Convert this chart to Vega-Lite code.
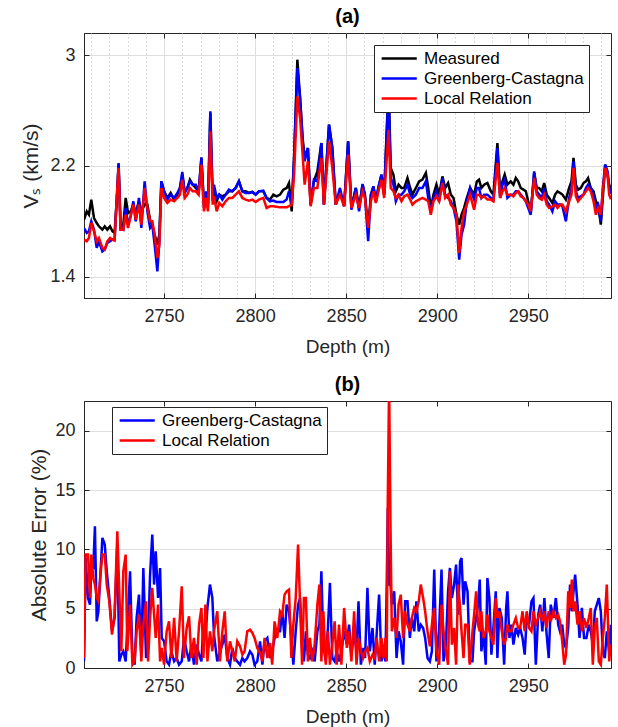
{
"$schema": "https://vega.github.io/schema/vega-lite/v6.json",
"padding": {"left": 20, "top": 6, "right": 6, "bottom": 4},
"background": "white",
"bounds": "flush",
"spacing": 103,
"config": {
  "font": "Liberation Sans",
  "view": {"stroke": "#262626", "strokeWidth": 1},
  "axis": {"labelFont": "Liberation Sans", "titleFont": "Liberation Sans", "labelFontSize": 18, "titleFontSize": 19, "titleFontWeight": "normal", "labelColor": "#262626", "titleColor": "#262626", "domainColor": "#262626", "tickColor": "#262626", "gridColor": "#dedede", "gridWidth": 1, "tickSize": -5, "labelPadding": 14, "domainWidth": 1},
  "axisY": {"titleFontSize": 21},
  "legend": {"orient": "none", "title": null, "symbolType": "M-1,0L5,0", "symbolSize": 137, "symbolStrokeWidth": 2.5, "labelFontSize": 17, "labelFont": "Liberation Sans", "labelColor": "#000000", "padding": 5, "rowPadding": 2, "strokeColor": "#262626", "fillColor": "white", "cornerRadius": 0, "labelOffset": 28},
  "title": {"font": "Liberation Sans", "fontSize": 20, "fontWeight": "bold", "color": "#000000", "offset": 6}
},
"datasets": {
"a": [
{"d":2706.0,"m":1.812,"g":1.752,"l":1.668},
{"d":2707.5,"m":1.872,"g":1.716,"l":1.656},
{"d":2708.7,"m":1.848,"g":1.728,"l":1.680},
{"d":2710.0,"m":1.957,"g":1.800,"l":1.788},
{"d":2711.5,"m":1.824,"g":1.740,"l":1.728},
{"d":2713.0,"m":1.788,"g":1.608,"l":1.656},
{"d":2714.2,"m":1.764,"g":1.656,"l":1.680},
{"d":2716.1,"m":1.740,"g":1.583,"l":1.608},
{"d":2717.4,"m":1.764,"g":1.596,"l":1.596},
{"d":2718.8,"m":1.740,"g":1.644,"l":1.656},
{"d":2720.3,"m":1.764,"g":1.656,"l":1.680},
{"d":2721.6,"m":1.728,"g":1.668,"l":1.668},
{"d":2722.8,"m":1.716,"g":1.668,"l":1.661},
{"d":2724.3,"m":2.017,"g":2.041,"l":2.041},
{"d":2725.0,"m":2.210,"g":2.222,"l":2.186},
{"d":2726.1,"m":1.752,"g":1.752,"l":1.740},
{"d":2727.6,"m":1.776,"g":1.740,"l":1.740},
{"d":2728.9,"m":1.969,"g":1.897,"l":1.848},
{"d":2730.2,"m":1.860,"g":1.776,"l":1.752},
{"d":2731.6,"m":1.872,"g":1.836,"l":1.836},
{"d":2733.1,"m":1.921,"g":1.945,"l":1.921},
{"d":2734.4,"m":1.860,"g":1.800,"l":1.812},
{"d":2736.2,"m":1.945,"g":1.969,"l":1.921},
{"d":2737.5,"m":1.872,"g":1.752,"l":1.776},
{"d":2739.3,"m":1.921,"g":2.089,"l":2.041},
{"d":2740.8,"m":1.921,"g":1.872,"l":1.897},
{"d":2742.3,"m":1.812,"g":1.752,"l":1.800},
{"d":2743.5,"m":1.776,"g":1.776,"l":1.800},
{"d":2744.8,"m":1.704,"g":1.632,"l":1.704},
{"d":2746.3,"m":1.632,"g":1.439,"l":1.535},
{"d":2747.4,"m":1.704,"g":1.656,"l":1.632},
{"d":2748.5,"m":2.089,"g":2.089,"l":2.041},
{"d":2750.0,"m":2.017,"g":2.017,"l":1.969},
{"d":2751.8,"m":1.969,"g":1.957,"l":1.933},
{"d":2753.6,"m":2.005,"g":1.993,"l":1.957},
{"d":2755.5,"m":1.957,"g":1.969,"l":1.945},
{"d":2757.3,"m":1.993,"g":2.005,"l":1.969},
{"d":2758.7,"m":2.041,"g":2.041,"l":1.993},
{"d":2760.0,"m":2.137,"g":2.157,"l":2.101},
{"d":2761.3,"m":2.017,"g":2.005,"l":1.969},
{"d":2762.8,"m":2.041,"g":2.041,"l":1.993},
{"d":2764.2,"m":2.101,"g":2.089,"l":2.041},
{"d":2765.7,"m":2.065,"g":2.065,"l":2.017},
{"d":2767.4,"m":2.041,"g":2.065,"l":2.017},
{"d":2769.0,"m":2.017,"g":2.017,"l":1.993},
{"d":2770.5,"m":2.258,"g":2.263,"l":2.210},
{"d":2771.9,"m":1.921,"g":1.897,"l":1.872},
{"d":2773.0,"m":1.993,"g":2.017,"l":1.969},
{"d":2774.1,"m":1.921,"g":1.897,"l":1.872},
{"d":2775.4,"m":2.585,"g":2.595,"l":2.450},
{"d":2776.7,"m":1.945,"g":1.969,"l":1.921},
{"d":2777.4,"m":2.017,"g":2.065,"l":1.981},
{"d":2778.9,"m":1.945,"g":1.969,"l":1.872},
{"d":2780.3,"m":1.993,"g":1.993,"l":1.933},
{"d":2782.0,"m":1.981,"g":1.957,"l":1.909},
{"d":2783.8,"m":1.993,"g":1.993,"l":1.945},
{"d":2785.6,"m":2.017,"g":2.029,"l":1.969},
{"d":2787.5,"m":2.017,"g":2.017,"l":1.969},
{"d":2789.3,"m":2.041,"g":2.041,"l":1.993},
{"d":2791.1,"m":2.089,"g":2.089,"l":2.017},
{"d":2793.0,"m":2.017,"g":2.017,"l":1.969},
{"d":2794.8,"m":2.017,"g":2.005,"l":1.957},
{"d":2796.6,"m":2.005,"g":2.005,"l":1.950},
{"d":2798.5,"m":2.012,"g":2.012,"l":1.957},
{"d":2800.3,"m":1.993,"g":1.993,"l":1.940},
{"d":2802.1,"m":2.017,"g":2.017,"l":1.957},
{"d":2804.5,"m":2.017,"g":2.022,"l":1.969},
{"d":2806.3,"m":1.969,"g":1.969,"l":1.897},
{"d":2808.2,"m":1.957,"g":1.945,"l":1.909},
{"d":2810.0,"m":1.993,"g":1.950,"l":1.909},
{"d":2811.8,"m":1.981,"g":1.940,"l":1.906},
{"d":2813.7,"m":1.993,"g":1.940,"l":1.901},
{"d":2815.5,"m":2.029,"g":1.940,"l":1.901},
{"d":2817.3,"m":2.041,"g":1.957,"l":1.901},
{"d":2818.6,"m":2.077,"g":2.017,"l":1.909},
{"d":2820.1,"m":1.872,"g":1.921,"l":1.921},
{"d":2821.4,"m":2.258,"g":2.258,"l":2.137},
{"d":2823.2,"m":2.968,"g":2.908,"l":2.703},
{"d":2824.7,"m":2.691,"g":2.691,"l":2.547},
{"d":2826.1,"m":2.402,"g":2.378,"l":2.282},
{"d":2827.2,"m":2.258,"g":2.234,"l":2.065},
{"d":2829.0,"m":2.330,"g":2.330,"l":2.234},
{"d":2830.5,"m":1.921,"g":1.921,"l":1.909},
{"d":2832.3,"m":2.089,"g":2.101,"l":2.041},
{"d":2834.2,"m":2.161,"g":2.089,"l":2.041},
{"d":2836.4,"m":2.366,"g":2.366,"l":2.258},
{"d":2837.8,"m":1.921,"g":1.921,"l":1.921},
{"d":2840.6,"m":2.499,"g":2.499,"l":2.378},
{"d":2842.4,"m":2.330,"g":2.330,"l":2.186},
{"d":2844.3,"m":1.921,"g":1.921,"l":1.921},
{"d":2846.6,"m":2.017,"g":2.041,"l":1.993},
{"d":2848.9,"m":1.909,"g":1.909,"l":1.909},
{"d":2851.1,"m":2.378,"g":2.378,"l":2.282},
{"d":2852.9,"m":1.897,"g":1.884,"l":1.897},
{"d":2855.3,"m":2.041,"g":2.041,"l":1.993},
{"d":2857.1,"m":1.897,"g":1.872,"l":1.897},
{"d":2859.0,"m":2.065,"g":2.070,"l":2.017},
{"d":2860.3,"m":1.993,"g":1.993,"l":1.969},
{"d":2862.1,"m":1.752,"g":1.656,"l":1.752},
{"d":2863.6,"m":1.993,"g":1.993,"l":1.945},
{"d":2865.0,"m":2.053,"g":2.053,"l":2.017},
{"d":2866.3,"m":1.945,"g":1.945,"l":1.933},
{"d":2867.8,"m":2.041,"g":2.053,"l":2.017},
{"d":2869.4,"m":2.137,"g":2.137,"l":2.101},
{"d":2870.9,"m":1.993,"g":1.993,"l":1.969},
{"d":2873.3,"m":2.800,"g":2.750,"l":2.460},
{"d":2874.5,"m":2.186,"g":2.113,"l":2.041},
{"d":2876.0,"m":2.137,"g":2.065,"l":2.017},
{"d":2877.3,"m":2.017,"g":1.945,"l":1.969},
{"d":2878.8,"m":2.065,"g":1.993,"l":1.993},
{"d":2880.4,"m":2.041,"g":1.993,"l":1.945},
{"d":2881.9,"m":2.041,"g":2.017,"l":1.981},
{"d":2883.7,"m":2.113,"g":2.065,"l":1.993},
{"d":2885.2,"m":2.041,"g":1.993,"l":1.957},
{"d":2886.4,"m":1.993,"g":1.969,"l":1.921},
{"d":2888.3,"m":2.041,"g":1.993,"l":1.945},
{"d":2890.1,"m":2.089,"g":2.041,"l":1.957},
{"d":2891.9,"m":2.101,"g":2.041,"l":1.969},
{"d":2893.8,"m":2.149,"g":2.089,"l":1.957},
{"d":2895.1,"m":2.041,"g":1.969,"l":1.945},
{"d":2896.5,"m":1.897,"g":1.872,"l":1.848},
{"d":2898.0,"m":1.993,"g":1.969,"l":1.945},
{"d":2899.6,"m":2.065,"g":2.017,"l":1.981},
{"d":2901.1,"m":1.993,"g":1.945,"l":1.945},
{"d":2902.9,"m":2.125,"g":2.113,"l":2.077},
{"d":2904.4,"m":2.041,"g":1.993,"l":1.969},
{"d":2906.0,"m":2.077,"g":1.969,"l":1.993},
{"d":2907.5,"m":1.993,"g":1.945,"l":1.921},
{"d":2909.0,"m":1.969,"g":1.897,"l":1.897},
{"d":2910.6,"m":1.848,"g":1.800,"l":1.848},
{"d":2912.1,"m":1.776,"g":1.523,"l":1.571},
{"d":2913.4,"m":1.848,"g":1.704,"l":1.752},
{"d":2914.8,"m":1.897,"g":1.776,"l":1.872},
{"d":2916.3,"m":1.969,"g":1.945,"l":1.921},
{"d":2918.1,"m":2.041,"g":2.041,"l":1.993},
{"d":2920.3,"m":1.993,"g":1.957,"l":1.884},
{"d":2921.8,"m":2.089,"g":2.041,"l":1.993},
{"d":2923.0,"m":2.101,"g":2.041,"l":1.993},
{"d":2924.3,"m":2.041,"g":1.969,"l":1.969},
{"d":2925.8,"m":2.065,"g":1.993,"l":1.981},
{"d":2927.6,"m":2.077,"g":1.993,"l":1.957},
{"d":2929.5,"m":2.017,"g":1.969,"l":1.957},
{"d":2930.9,"m":1.993,"g":1.957,"l":1.945},
{"d":2933.1,"m":2.366,"g":2.330,"l":2.222},
{"d":2934.6,"m":1.993,"g":1.969,"l":1.969},
{"d":2935.9,"m":2.089,"g":2.065,"l":2.017},
{"d":2937.1,"m":2.137,"g":2.101,"l":2.041},
{"d":2938.6,"m":2.065,"g":1.969,"l":1.993},
{"d":2940.4,"m":2.089,"g":1.993,"l":1.993},
{"d":2941.9,"m":2.065,"g":1.993,"l":1.981},
{"d":2943.2,"m":2.113,"g":2.017,"l":2.005},
{"d":2944.5,"m":2.089,"g":2.017,"l":2.017},
{"d":2945.9,"m":2.041,"g":1.993,"l":1.981},
{"d":2947.4,"m":2.029,"g":1.969,"l":1.969},
{"d":2948.7,"m":2.017,"g":1.945,"l":1.945},
{"d":2950.0,"m":1.945,"g":1.897,"l":1.921},
{"d":2951.4,"m":1.860,"g":1.848,"l":1.872},
{"d":2953.3,"m":2.149,"g":2.161,"l":2.113},
{"d":2954.7,"m":2.041,"g":2.017,"l":1.993},
{"d":2956.0,"m":2.041,"g":1.993,"l":1.969},
{"d":2957.5,"m":2.017,"g":1.969,"l":1.957},
{"d":2958.8,"m":2.077,"g":2.041,"l":1.993},
{"d":2960.2,"m":1.993,"g":1.945,"l":1.921},
{"d":2961.5,"m":1.969,"g":1.921,"l":1.897},
{"d":2963.3,"m":1.933,"g":1.872,"l":1.909},
{"d":2964.8,"m":1.993,"g":1.945,"l":1.921},
{"d":2966.1,"m":2.017,"g":1.921,"l":1.897},
{"d":2967.6,"m":2.005,"g":1.921,"l":1.921},
{"d":2968.8,"m":1.993,"g":1.909,"l":1.921},
{"d":2970.7,"m":1.957,"g":1.800,"l":1.872},
{"d":2972.5,"m":2.041,"g":1.969,"l":1.945},
{"d":2973.8,"m":2.089,"g":2.041,"l":1.993},
{"d":2974.9,"m":2.258,"g":2.234,"l":2.186},
{"d":2976.2,"m":2.065,"g":2.017,"l":1.981},
{"d":2977.4,"m":2.029,"g":1.969,"l":1.945},
{"d":2978.9,"m":2.041,"g":1.981,"l":1.969},
{"d":2980.4,"m":2.077,"g":1.993,"l":1.993},
{"d":2981.7,"m":2.089,"g":2.041,"l":2.017},
{"d":2982.9,"m":2.113,"g":2.065,"l":2.041},
{"d":2984.4,"m":2.041,"g":2.041,"l":2.017},
{"d":2985.9,"m":2.017,"g":1.993,"l":1.945},
{"d":2987.2,"m":1.945,"g":1.897,"l":1.848},
{"d":2988.4,"m":1.921,"g":1.921,"l":1.897},
{"d":2989.9,"m":1.776,"g":1.800,"l":1.848},
{"d":2991.0,"m":1.969,"g":2.041,"l":2.017},
{"d":2992.3,"m":2.210,"g":2.210,"l":2.186},
{"d":2993.6,"m":2.137,"g":2.161,"l":2.137},
{"d":2994.5,"m":2.065,"g":2.041,"l":1.993},
{"d":2995.5,"m":2.030,"g":2.000,"l":1.960}
],
"b": [
{"d":2706.0,"g":0.56,"l":0.84},
{"d":2706.9,"g":9.27,"l":9.56},
{"d":2708.2,"g":5.90,"l":9.56},
{"d":2709.3,"g":5.34,"l":5.90},
{"d":2710.0,"g":8.43,"l":9.56},
{"d":2711.1,"g":8.43,"l":7.59},
{"d":2712.0,"g":11.94,"l":7.03},
{"d":2713.0,"g":3.93,"l":5.90},
{"d":2713.9,"g":4.78,"l":5.62},
{"d":2715.2,"g":8.43,"l":8.15},
{"d":2716.1,"g":10.96,"l":9.56},
{"d":2717.4,"g":10.40,"l":9.56},
{"d":2718.5,"g":8.15,"l":7.03},
{"d":2719.9,"g":5.90,"l":5.62},
{"d":2721.4,"g":3.09,"l":2.81},
{"d":2722.8,"g":4.22,"l":4.50},
{"d":2724.3,"g":10.40,"l":11.52},
{"d":2725.4,"g":0.56,"l":6.46},
{"d":2726.5,"g":1.12,"l":1.41},
{"d":2727.6,"g":1.41,"l":8.15},
{"d":2728.9,"g":0.56,"l":9.56},
{"d":2729.8,"g":3.37,"l":1.41},
{"d":2731.3,"g":8.15,"l":5.34},
{"d":2732.6,"g":0.84,"l":0.28},
{"d":2733.8,"g":0.28,"l":0.56},
{"d":2734.9,"g":4.22,"l":3.09},
{"d":2736.2,"g":6.18,"l":4.50},
{"d":2737.5,"g":1.12,"l":0.56},
{"d":2738.6,"g":8.43,"l":3.65},
{"d":2740.1,"g":0.84,"l":5.62},
{"d":2741.2,"g":2.53,"l":0.56},
{"d":2742.3,"g":7.87,"l":4.22},
{"d":2743.5,"g":11.24,"l":6.75},
{"d":2744.5,"g":7.03,"l":4.50},
{"d":2745.4,"g":9.84,"l":2.53},
{"d":2746.7,"g":5.90,"l":5.34},
{"d":2747.8,"g":8.43,"l":0.56},
{"d":2748.7,"g":2.53,"l":1.69},
{"d":2750.0,"g":2.25,"l":0.28},
{"d":2751.4,"g":0.56,"l":3.09},
{"d":2752.7,"g":0.28,"l":3.93},
{"d":2754.0,"g":1.41,"l":0.84},
{"d":2755.5,"g":0.56,"l":4.22},
{"d":2756.9,"g":0.84,"l":0.56},
{"d":2758.2,"g":0.28,"l":3.09},
{"d":2759.7,"g":0.56,"l":6.89},
{"d":2760.9,"g":2.53,"l":0.84},
{"d":2762.4,"g":1.41,"l":3.37},
{"d":2763.7,"g":0.56,"l":4.36},
{"d":2765.0,"g":1.97,"l":0.84},
{"d":2766.4,"g":0.28,"l":2.53},
{"d":2767.9,"g":1.97,"l":0.28},
{"d":2769.2,"g":1.12,"l":3.65},
{"d":2770.5,"g":0.56,"l":5.06},
{"d":2771.6,"g":3.65,"l":0.84},
{"d":2772.7,"g":2.53,"l":5.34},
{"d":2773.8,"g":5.06,"l":0.56},
{"d":2775.2,"g":7.03,"l":3.09},
{"d":2776.5,"g":5.90,"l":1.41},
{"d":2777.4,"g":2.81,"l":3.09},
{"d":2779.2,"g":0.56,"l":4.78},
{"d":2780.7,"g":1.41,"l":0.56},
{"d":2782.0,"g":1.97,"l":3.09},
{"d":2783.3,"g":2.81,"l":4.78},
{"d":2784.7,"g":0.84,"l":0.56},
{"d":2786.2,"g":0.28,"l":2.25},
{"d":2787.5,"g":1.69,"l":1.41},
{"d":2788.8,"g":0.84,"l":0.56},
{"d":2790.2,"g":0.56,"l":2.25},
{"d":2791.7,"g":0.28,"l":1.83},
{"d":2793.0,"g":0.84,"l":1.12},
{"d":2794.2,"g":0.56,"l":1.41},
{"d":2795.7,"g":0.84,"l":3.09},
{"d":2797.2,"g":1.41,"l":3.23},
{"d":2798.5,"g":1.12,"l":2.95},
{"d":2799.7,"g":0.28,"l":2.53},
{"d":2801.2,"g":0.56,"l":1.69},
{"d":2802.7,"g":2.25,"l":1.26},
{"d":2804.0,"g":0.28,"l":0.56},
{"d":2805.2,"g":2.25,"l":2.53},
{"d":2806.7,"g":2.53,"l":0.84},
{"d":2808.2,"g":0.84,"l":2.11},
{"d":2809.4,"g":1.41,"l":0.28},
{"d":2810.7,"g":2.53,"l":3.93},
{"d":2812.2,"g":3.09,"l":2.53},
{"d":2813.7,"g":3.09,"l":4.78},
{"d":2814.9,"g":4.78,"l":4.50},
{"d":2816.2,"g":2.53,"l":6.18},
{"d":2817.3,"g":5.34,"l":6.46},
{"d":2818.6,"g":4.78,"l":6.60},
{"d":2819.9,"g":2.53,"l":0.84},
{"d":2821.0,"g":0.28,"l":3.65},
{"d":2822.3,"g":3.09,"l":5.90},
{"d":2823.6,"g":5.34,"l":10.40},
{"d":2824.7,"g":5.90,"l":5.34},
{"d":2825.8,"g":1.69,"l":0.28},
{"d":2826.8,"g":0.56,"l":5.90},
{"d":2827.9,"g":3.09,"l":5.90},
{"d":2829.0,"g":1.12,"l":0.56},
{"d":2830.1,"g":0.84,"l":2.53},
{"d":2831.4,"g":1.41,"l":0.56},
{"d":2832.7,"g":0.56,"l":1.97},
{"d":2834.2,"g":3.09,"l":5.34},
{"d":2835.3,"g":3.65,"l":7.03},
{"d":2836.4,"g":8.15,"l":0.56},
{"d":2837.5,"g":1.97,"l":4.78},
{"d":2838.8,"g":0.56,"l":0.28},
{"d":2840.0,"g":3.37,"l":3.09},
{"d":2841.1,"g":7.17,"l":0.28},
{"d":2842.4,"g":0.84,"l":1.97},
{"d":2843.7,"g":0.56,"l":3.93},
{"d":2844.8,"g":1.41,"l":0.28},
{"d":2846.1,"g":0.56,"l":3.65},
{"d":2847.4,"g":1.41,"l":0.28},
{"d":2848.9,"g":3.09,"l":5.06},
{"d":2850.4,"g":1.97,"l":1.69},
{"d":2851.6,"g":3.65,"l":3.09},
{"d":2852.9,"g":1.12,"l":0.56},
{"d":2854.4,"g":3.09,"l":4.78},
{"d":2855.7,"g":1.41,"l":0.28},
{"d":2856.8,"g":5.62,"l":2.53},
{"d":2858.1,"g":0.28,"l":1.41},
{"d":2859.3,"g":1.69,"l":0.84},
{"d":2860.4,"g":0.84,"l":1.41},
{"d":2861.7,"g":6.75,"l":1.69},
{"d":2863.0,"g":1.41,"l":0.56},
{"d":2864.5,"g":3.37,"l":1.12},
{"d":2865.7,"g":0.28,"l":0.84},
{"d":2866.8,"g":2.95,"l":2.53},
{"d":2868.1,"g":6.18,"l":0.56},
{"d":2869.4,"g":0.56,"l":2.53},
{"d":2870.5,"g":1.41,"l":0.84},
{"d":2871.6,"g":0.56,"l":2.53},
{"d":2872.3,"g":7.03,"l":0.56},
{"d":2872.9,"g":13.50,"l":14.33},
{"d":2873.6,"g":7.03,"l":24.00},
{"d":2874.4,"g":7.03,"l":11.52},
{"d":2875.1,"g":5.34,"l":3.09},
{"d":2876.4,"g":6.46,"l":4.22},
{"d":2877.7,"g":0.84,"l":2.53},
{"d":2878.8,"g":3.09,"l":5.34},
{"d":2880.0,"g":2.25,"l":6.18},
{"d":2881.3,"g":0.28,"l":2.53},
{"d":2882.4,"g":5.62,"l":4.78},
{"d":2883.7,"g":5.62,"l":3.65},
{"d":2885.0,"g":2.53,"l":3.09},
{"d":2886.1,"g":4.22,"l":4.22},
{"d":2887.4,"g":3.09,"l":5.06},
{"d":2888.6,"g":5.62,"l":4.78},
{"d":2889.9,"g":3.09,"l":5.62},
{"d":2891.0,"g":3.65,"l":7.03},
{"d":2892.3,"g":3.37,"l":5.90},
{"d":2893.4,"g":2.53,"l":4.78},
{"d":2894.7,"g":0.84,"l":3.09},
{"d":2896.0,"g":0.56,"l":1.83},
{"d":2897.1,"g":1.41,"l":3.65},
{"d":2898.4,"g":8.29,"l":5.06},
{"d":2899.6,"g":0.56,"l":1.41},
{"d":2901.1,"g":3.37,"l":0.28},
{"d":2902.4,"g":8.29,"l":5.34},
{"d":2903.5,"g":0.56,"l":3.09},
{"d":2904.8,"g":1.97,"l":1.41},
{"d":2906.0,"g":6.46,"l":0.28},
{"d":2907.0,"g":8.43,"l":8.15},
{"d":2908.1,"g":5.90,"l":1.97},
{"d":2909.3,"g":7.03,"l":3.37},
{"d":2910.4,"g":8.71,"l":0.28},
{"d":2911.5,"g":4.50,"l":7.03},
{"d":2912.6,"g":8.99,"l":5.06},
{"d":2913.4,"g":9.27,"l":3.09},
{"d":2914.5,"g":5.34,"l":0.84},
{"d":2915.4,"g":7.31,"l":3.65},
{"d":2916.7,"g":6.46,"l":3.65},
{"d":2917.9,"g":0.56,"l":0.28},
{"d":2919.4,"g":0.56,"l":3.09},
{"d":2920.3,"g":3.09,"l":4.50},
{"d":2921.4,"g":4.22,"l":6.46},
{"d":2922.5,"g":5.34,"l":3.65},
{"d":2923.4,"g":7.45,"l":3.09},
{"d":2924.3,"g":1.41,"l":4.78},
{"d":2925.4,"g":3.09,"l":2.53},
{"d":2926.7,"g":0.28,"l":3.09},
{"d":2927.6,"g":7.59,"l":4.50},
{"d":2928.7,"g":5.90,"l":3.09},
{"d":2929.8,"g":1.12,"l":2.53},
{"d":2930.9,"g":3.37,"l":1.97},
{"d":2932.2,"g":6.46,"l":5.90},
{"d":2933.1,"g":0.84,"l":4.22},
{"d":2934.2,"g":5.06,"l":4.78},
{"d":2935.5,"g":4.22,"l":3.09},
{"d":2936.8,"g":0.28,"l":1.97},
{"d":2937.9,"g":5.06,"l":2.53},
{"d":2938.6,"g":6.46,"l":3.65},
{"d":2939.7,"g":2.53,"l":3.09},
{"d":2940.8,"g":3.65,"l":3.09},
{"d":2941.9,"g":1.97,"l":3.65},
{"d":2943.2,"g":3.37,"l":4.22},
{"d":2944.5,"g":2.81,"l":3.37},
{"d":2945.6,"g":3.37,"l":3.37},
{"d":2946.9,"g":2.53,"l":4.78},
{"d":2948.1,"g":1.12,"l":3.09},
{"d":2949.2,"g":4.22,"l":4.78},
{"d":2950.5,"g":3.65,"l":3.37},
{"d":2951.8,"g":5.62,"l":3.09},
{"d":2952.9,"g":5.90,"l":4.78},
{"d":2954.2,"g":0.28,"l":3.65},
{"d":2955.5,"g":4.50,"l":4.22},
{"d":2956.6,"g":5.34,"l":4.78},
{"d":2957.8,"g":3.09,"l":3.93},
{"d":2958.9,"g":5.90,"l":4.78},
{"d":2960.0,"g":3.09,"l":3.37},
{"d":2961.3,"g":0.84,"l":4.78},
{"d":2962.4,"g":5.34,"l":3.93},
{"d":2963.9,"g":4.22,"l":4.78},
{"d":2965.2,"g":5.90,"l":4.22},
{"d":2966.5,"g":3.65,"l":4.50},
{"d":2967.5,"g":3.09,"l":3.93},
{"d":2968.7,"g":3.65,"l":2.25},
{"d":2969.8,"g":1.97,"l":0.28},
{"d":2970.8,"g":1.69,"l":1.12},
{"d":2972.0,"g":3.37,"l":6.46},
{"d":2973.0,"g":7.03,"l":5.06},
{"d":2974.0,"g":4.78,"l":7.45},
{"d":2974.9,"g":6.46,"l":4.78},
{"d":2975.8,"g":7.87,"l":5.62},
{"d":2977.1,"g":5.34,"l":3.65},
{"d":2978.2,"g":2.53,"l":4.78},
{"d":2979.5,"g":5.06,"l":3.09},
{"d":2980.7,"g":2.53,"l":4.22},
{"d":2982.0,"g":2.53,"l":3.37},
{"d":2983.3,"g":3.65,"l":4.22},
{"d":2984.4,"g":3.09,"l":5.06},
{"d":2985.5,"g":1.97,"l":0.28},
{"d":2986.6,"g":4.78,"l":3.37},
{"d":2987.7,"g":5.34,"l":4.22},
{"d":2988.8,"g":5.90,"l":0.56},
{"d":2989.9,"g":4.78,"l":0.28},
{"d":2991.0,"g":1.41,"l":2.53},
{"d":2992.1,"g":0.84,"l":4.22},
{"d":2993.2,"g":3.09,"l":7.03},
{"d":2994.5,"g":1.41,"l":0.56},
{"d":2995.4,"g":3.65,"l":1.97}
]
},
"vconcat": [
{
  "width": 527, "height": 265,
  "title": {"text": "(a)"},
  "resolve": {"axis": {"x": "independent", "y": "independent"}},
  "layer": [
    {"data": {"name": "a"}, "mark": {"type": "line", "strokeWidth": 2.5, "clip": true},
     "encoding": {
       "x": {"field": "d", "type": "quantitative", "scale": {"domain": [2706, 2995.5], "nice": false, "zero": false},
             "axis": {"title": "Depth (m)", "values": [2710,2720,2730,2740,2750,2760,2770,2780,2790,2800,2810,2820,2830,2840,2850,2860,2870,2880,2890,2900,2910,2920,2930,2940,2950,2960,2970,2980,2990], "format": "d",
                      "labelExpr": "datum.value % 50 === 0 ? datum.label : ''",
                      "grid": true,
                      "gridDash": {"condition": {"test": "datum.value % 50 === 0", "value": []}, "value": [1, 3]},
                      "gridColor": {"condition": {"test": "datum.value % 50 === 0", "value": "#dedede"}, "value": "#b8b8b8"},
                      "tickOpacity": {"condition": {"test": "datum.value % 50 === 0", "value": 1}, "value": 0},
                      "titlePadding": 12}},
       "y": {"field": "m", "type": "quantitative", "scale": {"domain": [1.246, 3.161], "nice": false, "zero": false},
             "axis": {"title": "Vₛ (km/s)", "values": [1.4, 2.2, 3], "format": "~g", "grid": true, "titlePadding": 8}},
       "color": {"datum": "Measured", "type": "nominal",
                 "scale": {"domain": ["Measured", "Greenberg-Castagna", "Local Relation"], "range": ["#000000", "#0000ff", "#ff0000"]},
                 "legend": {"legendX": 290, "legendY": 12}}
     }},
    {"data": {"name": "a"}, "mark": {"type": "line", "strokeWidth": 2.5, "clip": true},
     "encoding": {
       "x": {"field": "d", "type": "quantitative", "axis": {"orient": "top", "title": null, "labels": false, "grid": false, "domain": false, "values": [2750, 2800, 2850, 2900, 2950]}},
       "y": {"field": "g", "type": "quantitative", "axis": {"orient": "right", "title": null, "labels": false, "grid": false, "domain": false, "values": [1.4, 2.2, 3]}},
       "color": {"datum": "Greenberg-Castagna", "type": "nominal"}
     }},
    {"data": {"name": "a"}, "mark": {"type": "line", "strokeWidth": 2.5, "clip": true},
     "encoding": {
       "x": {"field": "d", "type": "quantitative", "axis": null},
       "y": {"field": "l", "type": "quantitative", "axis": null},
       "color": {"datum": "Local Relation", "type": "nominal"}
     }}
  ]
},
{
  "width": 527, "height": 267,
  "title": {"text": "(b)"},
  "resolve": {"axis": {"x": "independent", "y": "independent"}},
  "layer": [
    {"data": {"name": "b"}, "mark": {"type": "line", "strokeWidth": 2.5, "clip": true},
     "encoding": {
       "x": {"field": "d", "type": "quantitative", "scale": {"domain": [2706, 2995.5], "nice": false, "zero": false},
             "axis": {"title": "Depth (m)", "values": [2750, 2800, 2850, 2900, 2950], "format": "d", "grid": false, "titlePadding": 12}},
       "y": {"field": "g", "type": "quantitative", "scale": {"domain": [0, 22.5], "nice": false, "zero": false},
             "axis": {"title": "Absolute Error (%)", "values": [0, 5, 10, 15, 20], "format": "d", "grid": true, "titlePadding": 5}},
       "color": {"datum": "Greenberg-Castagna", "type": "nominal",
                 "scale": {"domain": ["Greenberg-Castagna", "Local Relation"], "range": ["#0000ff", "#ff0000"]},
                 "legend": {"legendX": 28, "legendY": 6}}
     }},
    {"data": {"name": "b"}, "mark": {"type": "line", "strokeWidth": 2.5, "clip": true},
     "encoding": {
       "x": {"field": "d", "type": "quantitative", "axis": {"orient": "top", "title": null, "labels": false, "grid": false, "domain": false, "values": [2750, 2800, 2850, 2900, 2950]}},
       "y": {"field": "l", "type": "quantitative", "axis": {"orient": "right", "title": null, "labels": false, "grid": false, "domain": false, "values": [0, 5, 10, 15, 20]}},
       "color": {"datum": "Local Relation", "type": "nominal"}
     }}
  ]
}
],
"resolve": {"scale": {"color": "independent", "x": "independent", "y": "independent"}, "legend": {"color": "independent"}}
}
